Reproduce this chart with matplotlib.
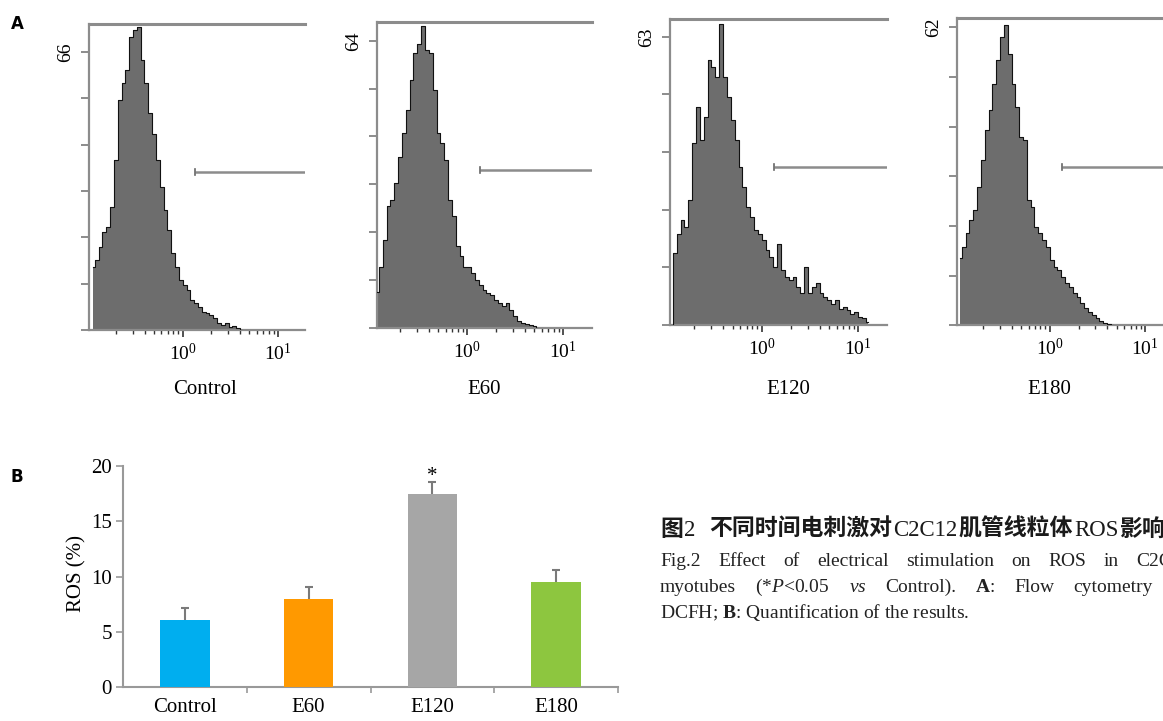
import matplotlib
matplotlib.use('Agg')
import matplotlib.pyplot as plt
import matplotlib.transforms as mtransforms
from matplotlib.ticker import LogLocator, NullFormatter, FixedLocator
import numpy as np

plt.rcParams['font.family'] = ['Liberation Serif', 'Noto Sans CJK SC', 'DejaVu Sans']
plt.rcParams['mathtext.fontset'] = 'custom'
plt.rcParams['mathtext.rm'] = 'Liberation Serif'
plt.rcParams['mathtext.it'] = 'Liberation Serif:italic'
plt.rcParams['mathtext.bf'] = 'Liberation Serif:bold'

# ---------------- data ----------------
# FL1 (DCFH fluorescence) bin centres, log scale
fl1_bins = [0.115, 0.126, 0.138, 0.151, 0.166, 0.182, 0.200, 0.219, 0.240, 0.263,
            0.288, 0.316, 0.347, 0.380, 0.417, 0.457, 0.501, 0.550, 0.603, 0.661,
            0.724, 0.794, 0.871, 0.955, 1.047, 1.148, 1.259, 1.380, 1.514, 1.660,
            1.820, 1.995, 2.188, 2.399, 2.630, 2.884, 3.162, 3.467, 3.802, 4.169,
            4.571, 5.012, 5.495, 6.026, 6.607, 7.244, 7.943, 8.710, 9.550, 10.47,
            11.48, 12.59]

counts_control = [15.0, 16.6, 19.8, 23.3, 24.5, 29.2, 40.3, 54.5, 58.5, 61.6,
                  69.5, 71.1, 71.9, 64.0, 58.5, 51.4, 46.6, 40.3, 34.0, 28.5,
                  23.7, 18.2, 15.0, 11.9, 10.7, 9.5, 7.1, 6.3, 5.5, 4.3,
                  4.0, 3.6, 2.8, 1.6, 1.2, 1.6, 0.8, 0.9, 0.4, 0.0,
                  0.0, 0.0, 0.0, 0.0, 0.0, 0.0, 0.0, 0.0, 0.0, 0.0,
                  0.0, 0.0]
counts_e60 = [8.0, 13.7, 19.7, 27.1, 28.6, 32.3, 38.2, 43.4, 48.6, 55.3,
              61.2, 63.4, 67.2, 62.0, 61.2, 53.0, 43.4, 41.2, 37.5, 28.6,
              24.9, 18.2, 16.0, 13.7, 13.7, 12.2, 10.8, 9.6, 8.5, 7.8,
              7.4, 6.3, 5.6, 4.8, 5.6, 4.1, 2.6, 1.5, 1.1, 1.0,
              0.7, 0.4, 0.0, 0.0, 0.0, 0.0, 0.0, 0.0, 0.0, 0.0,
              0.0, 0.0]
counts_e120 = [0.0, 15.7, 20.0, 22.9, 21.5, 27.3, 39.7, 47.7, 40.4, 45.5,
               57.9, 56.4, 54.2, 65.9, 54.2, 49.9, 44.8, 40.4, 34.6, 30.2,
               25.8, 23.7, 20.7, 20.0, 18.6, 16.4, 14.9, 12.7, 17.8, 12.0,
               10.6, 9.8, 10.6, 8.4, 6.9, 12.7, 6.9, 8.4, 9.1, 6.9,
               6.2, 5.5, 4.7, 5.5, 3.6, 4.0, 3.3, 2.5, 2.9, 1.8,
               1.5, 0.7]
counts_e180 = [14.0, 16.3, 19.1, 21.8, 23.9, 28.8, 34.3, 40.5, 44.7, 50.2,
               55.1, 59.9, 62.5, 56.5, 50.2, 45.4, 39.2, 38.5, 26.0, 24.6,
               20.4, 19.1, 17.7, 16.3, 13.5, 12.1, 11.4, 10.0, 8.7, 8.0,
               6.6, 5.9, 4.5, 3.5, 2.8, 2.1, 1.4, 0.9, 0.5, 0.2,
               0.0, 0.0, 0.0, 0.0, 0.0, 0.0, 0.0, 0.0, 0.0, 0.0,
               0.0, 0.0]

hist_names = ['Control', 'E60', 'E120', 'E180']
hist_peak_labels = [66, 64, 63, 62]
hist_yticks = [[0, 11, 22, 33, 44, 55, 66],
               [0, 10.7, 21.3, 32, 42.7, 53.3, 64],
               [0, 12.6, 25.2, 37.8, 50.4, 63],
               [0, 10.3, 20.7, 31, 41.3, 51.7, 62]]
gate_threshold = 1.35

groups = ['Control', 'E60', 'E120', 'E180']
ros_mean = [6.06, 7.96, 17.43, 9.53]
ros_sem = [1.09, 1.12, 1.15, 1.06]
bar_colors = ['#00AEEF', '#FF9900', '#A6A6A6', '#8DC63F']

# ---------------- layout ----------------
W, H = 1163, 721
fig = plt.figure(figsize=(W / 100, H / 100), dpi=100)


def px_axes(l, t, r, b):
    return fig.add_axes([l / W, 1 - b / H, (r - l) / W, (b - t) / H])


# (left, top, right, bottom) px, log10 x-range, y top, title x
hist_layout = [
    ((89, 24, 305, 330), (-0.98, 1.28), 72.6, 205),
    ((377, 22, 592, 328), (-0.94, 1.30), 68.2, 484),
    ((670, 19, 887, 325), (-0.95, 1.30), 66.9, 788),
    ((957, 18, 1174, 325), (-0.97, 1.30), 63.9, 1049),
]
all_counts = [counts_control, counts_e60, counts_e120, counts_e180]
spine_c = '#8c8c8c'

for i, name in enumerate(hist_names):
    box, (lo, hi), ytop, tx = hist_layout[i]
    ax = px_axes(*box)
    ax.set_xscale('log')
    ax.set_xlim(10 ** lo, 10 ** hi)
    ax.set_ylim(0, ytop)
    counts = np.array(all_counts[i])
    xb = np.array(fl1_bins)
    ax.fill_between(xb, counts, step='mid', color='#6d6d6d', lw=0, zorder=2)
    nz = np.nonzero(counts)[0]
    n = min(nz[-1] + 2, len(counts))
    ax.step(xb[:n], counts[:n], where='mid', color='#111111', lw=0.8, zorder=3)

    ax.spines['right'].set_visible(False)
    ax.spines['top'].set_color(spine_c)
    ax.spines['top'].set_linewidth(2.2)
    for s in ['left', 'bottom']:
        ax.spines[s].set_color(spine_c)
        ax.spines[s].set_linewidth(1.6)

    yt = hist_yticks[i]
    ax.set_yticks(yt)
    ax.set_yticklabels([''] * (len(yt) - 1) + [str(hist_peak_labels[i])],
                       rotation=90, va='center', fontsize=14)
    ax.tick_params(axis='y', direction='out', length=6, width=1.4,
                   color=spine_c, pad=5)

    ax.xaxis.set_major_locator(FixedLocator([1, 10]))
    ax.set_xticklabels([r'$10^{0}$', r'$10^{1}$'])
    ax.xaxis.set_minor_locator(LogLocator(base=10, subs=(2, 3, 4, 5, 6, 7, 8, 9)))
    ax.xaxis.set_minor_formatter(NullFormatter())
    ax.tick_params(axis='x', which='major', direction='out', length=5,
                   width=1.2, color='#333333', labelsize=14, pad=4)
    ax.tick_params(axis='x', which='minor', direction='out', length=3,
                   width=1.0, color='#333333')

    tr = mtransforms.blended_transform_factory(ax.transData, ax.transAxes)
    ax.plot([gate_threshold, 10 ** hi], [0.516, 0.516], transform=tr,
            color=spine_c, lw=1.8, solid_capstyle='butt', zorder=4)
    ax.plot([gate_threshold, gate_threshold], [0.506, 0.526], transform=tr,
            color='#666666', lw=1.2, zorder=4)

    fig.text(tx / W, 1 - 389 / H, name, ha='center', va='center', fontsize=15)

fig.text(17 / W, 1 - 24 / H, 'A', family='DejaVu Sans', weight='bold',
         fontsize=12, ha='center', va='center')
fig.text(17 / W, 1 - 477 / H, 'B', family='DejaVu Sans', weight='bold',
         fontsize=12, ha='center', va='center')

# ---------------- bar chart ----------------
axb = px_axes(123, 466, 618, 687)
xpos = np.arange(len(groups))
axb.bar(xpos, ros_mean, width=0.4, color=bar_colors, zorder=3)
eb = axb.errorbar(xpos, ros_mean, yerr=[np.zeros(len(groups)), ros_sem],
                  fmt='none', ecolor='#7a7a7a', elinewidth=1.5, capsize=3,
                  capthick=1.5, zorder=2)
for cl in eb[1]:
    if np.allclose(cl.get_ydata(), ros_mean):
        cl.set_visible(False)
axb.set_xlim(-0.5, 3.5)
axb.set_ylim(0, 20)
axb.set_yticks([0, 5, 10, 15, 20])
axb.set_xticks(xpos)
axb.set_xticklabels(groups)
axb.xaxis.set_minor_locator(FixedLocator([0.5, 1.5, 2.5, 3.5]))
axb.tick_params(axis='x', which='major', length=0, labelsize=15, pad=8)
axb.tick_params(axis='x', which='minor', direction='out', length=4, width=1.2,
                color='#999999')
axb.tick_params(axis='y', direction='out', length=5, width=1.2,
                color='#999999', labelsize=15, pad=3)
for s in ['top', 'right']:
    axb.spines[s].set_visible(False)
for s in ['left', 'bottom']:
    axb.spines[s].set_color('#999999')
    axb.spines[s].set_linewidth(1.5)
axb.annotate('*', xy=(2, ros_mean[2] + ros_sem[2]), xytext=(0, -3),
             textcoords='offset points', ha='center', va='bottom', fontsize=15)
fig.text(77 / W, 1 - 573 / H, 'ROS (%)', rotation=90, ha='center',
         va='center', fontsize=15)

# ---------------- caption ----------------
renderer = fig.canvas.get_renderer()


def place_words(words, x0, y, gap, props=None, **kw):
    x = x0
    for k, w in enumerate(words):
        extra = props[k] if props else {}
        t = fig.text(x / W, 1 - y / H, w, ha='left', va='baseline', **kw, **extra)
        bb = t.get_window_extent(renderer)
        g = gap[k] if isinstance(gap, (list, tuple)) else gap
        x = x + bb.width + g


cjk = dict(family=['Noto Sans CJK SC'], weight='bold')
lat = dict(family=['Liberation Serif'])
place_words(['图', '2', '不同时间电刺激对', 'C2C12', '肌管线粒体', 'ROS', '影响'],
            660, 536, [1, 14, 1, 1, 1, 1, 0],
            props=[cjk, lat, cjk, lat, cjk, lat, cjk],
            fontsize=16.5, color='#1a1a1a')
place_words(['Fig.2', 'Effect', 'of', 'electrical', 'stimulation', 'on', 'ROS',
             'in', 'C2C12'], 660, 566, 17.5, fontsize=14, color='#222222')
place_words(['myotubes', r'(*$\mathit{P}$<0.05', r'$\mathit{vs}$', 'Control).',
             r'$\mathbf{A}$:', 'Flow', 'cytometry', 'of'], 660, 592, 19,
            fontsize=14, color='#222222')
fig.text(660 / W, 1 - 618 / H, r'DCFH; $\mathbf{B}$: Quantification of the results.',
         ha='left', va='baseline', fontsize=14, color='#222222')

fig.savefig('out.png', dpi=100, facecolor='white')
